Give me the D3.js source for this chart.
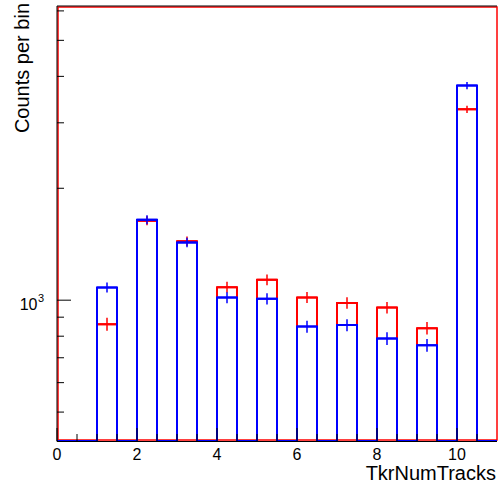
<!DOCTYPE html>
<html>
<head>
<meta charset="utf-8">
<script src="https://cdn.jsdelivr.net/npm/d3@7"></script>
<style>
  html, body { margin: 0; padding: 0; background: #fff; }
  svg { display: block; font-family: "Liberation Sans", Arial, sans-serif; }
</style>
</head>
<body>
<svg id="chart" width="498" height="487"></svg>
<script>
// Track multiplicity histograms (bin width 0.5, lower edges listed)
const binLow = [1, 2, 3, 4, 5, 6, 7, 8, 9, 10];
const binWidth = 0.5;
const redCounts  = [862, 1636, 1441, 1084, 1135, 1017, 983, 955, 841, 3262];
const redErrors  = [35, 45, 42, 37, 38, 35, 35, 34, 32, 72];
const blueCounts = [1082, 1646, 1429, 1016, 1009, 849, 857, 789, 756, 3778];
const blueErrors = [33, 45, 42, 35, 35, 32, 32, 31, 30, 86];

// Axis ranges and ticks
const xRange = [0, 11];
const yRange = [418, 6166];
const xMajorTicks = [0, 2, 4, 6, 8, 10];
const xMinorTicks = [0.5, 1, 1.5, 2.5, 3, 3.5, 4.5, 5, 5.5, 6.5, 7, 7.5, 8.5, 9, 9.5, 10.5];
const yMajorTicks = [1000];
const yMinorTicks = [500, 600, 700, 800, 900, 2000, 3000, 4000, 5000, 6000];

const svg = d3.select("#chart");
const plotL = 57, plotR = 497, plotT = 6.5, plotB = 441;

const x = d3.scaleLinear().domain(xRange).range([plotL, plotR]);
const y = d3.scaleLog().domain(yRange).range([plotB, plotT]);

svg.append("defs").append("clipPath").attr("id", "plotClip")
  .append("rect").attr("x", plotL).attr("y", plotT)
  .attr("width", plotR - plotL).attr("height", plotB - plotT);

// Frame
svg.append("rect")
  .attr("x", plotL + 1).attr("y", plotT + 0.5)
  .attr("width", plotR - plotL - 1).attr("height", plotB - plotT - 1.5)
  .attr("fill", "none").attr("stroke", "#ff0000").attr("stroke-width", 1.5);

// Step outline over the full axis range; empty bins lie on the baseline
function stepPath(counts) {
  const edges = d3.range(xRange[0], xRange[1] + 1e-9, binWidth);
  const pts = [];
  for (let i = 0; i < edges.length - 1; i++) {
    const lo = edges[i], hi = edges[i + 1];
    const k = binLow.findIndex(b => Math.abs(b - lo) < 1e-9);
    const yy = k >= 0 ? y(counts[k]) : plotB;
    pts.push([x(lo), yy], [x(hi), yy]);
  }
  return d3.line()(pts);
}

function drawSeries(counts, errors, color) {
  const g = svg.append("g").attr("clip-path", "url(#plotClip)");
  g.append("path").attr("d", stepPath(counts))
    .attr("fill", "none").attr("stroke", color).attr("stroke-width", 2)
    .attr("stroke-linejoin", "miter");
  const eb = g.selectAll(null).data(binLow.map((b, i) => ({ b, v: counts[i], e: errors[i] })))
    .enter().append("g");
  eb.append("line")
    .attr("x1", d => x(d.b)).attr("x2", d => x(d.b + binWidth))
    .attr("y1", d => y(d.v)).attr("y2", d => y(d.v))
    .attr("stroke", color).attr("stroke-width", 2);
  eb.append("line")
    .attr("x1", d => x(d.b + binWidth / 2)).attr("x2", d => x(d.b + binWidth / 2))
    .attr("y1", d => y(d.v - d.e)).attr("y2", d => y(d.v + d.e))
    .attr("stroke", color).attr("stroke-width", 1.5);
}

drawSeries(redCounts, redErrors, "#ff0000");
drawSeries(blueCounts, blueErrors, "#0000ff");

// Axes (ticks point into the plot)
const axisG = svg.append("g").attr("stroke", "#000").attr("stroke-width", 1);
axisG.append("line").attr("x1", plotL).attr("x2", plotR).attr("y1", plotB + 0.5).attr("y2", plotB + 0.5);
axisG.append("line").attr("x1", plotL).attr("x2", plotL).attr("y1", plotT - 0.5).attr("y2", plotB + 0.5);
axisG.append("line").attr("x1", plotL).attr("x2", plotR).attr("y1", plotT - 0.5).attr("y2", plotT - 0.5);

axisG.selectAll(null).data(xMajorTicks).enter().append("line")
  .attr("x1", d => x(d)).attr("x2", d => x(d))
  .attr("y1", plotB).attr("y2", plotB - 13);
axisG.selectAll(null).data(xMinorTicks).enter().append("line")
  .attr("x1", d => x(d)).attr("x2", d => x(d))
  .attr("y1", plotB).attr("y2", plotB - 7);
axisG.selectAll(null).data(yMajorTicks).enter().append("line")
  .attr("x1", plotL).attr("x2", plotL + 14)
  .attr("y1", d => y(d)).attr("y2", d => y(d));
axisG.selectAll(null).data(yMinorTicks).enter().append("line")
  .attr("x1", plotL).attr("x2", plotL + 7)
  .attr("y1", d => y(d)).attr("y2", d => y(d));

// Tick labels
svg.selectAll(null).data(xMajorTicks).enter().append("text")
  .attr("x", d => x(d)).attr("y", 460)
  .attr("text-anchor", "middle").attr("font-size", 16).attr("fill", "#000")
  .text(d => d);

yMajorTicks.forEach(v => {
  svg.append("text").attr("x", 37.5).attr("y", y(v) + 10)
    .attr("text-anchor", "end").attr("font-size", 16).attr("fill", "#000")
    .text("10");
  svg.append("text").attr("x", 38).attr("y", y(v) + 2)
    .attr("font-size", 11).attr("fill", "#000")
    .text(String(Math.round(Math.log10(v))));
});

// Axis titles
svg.append("text").attr("x", 496).attr("y", 480)
  .attr("text-anchor", "end").attr("font-size", 20).attr("fill", "#000")
  .text("TkrNumTracks");
svg.append("text")
  .attr("transform", "translate(29,3) rotate(-90)")
  .attr("text-anchor", "end").attr("font-size", 20).attr("fill", "#000")
  .text("Counts per bin");
</script>
</body>
</html>
